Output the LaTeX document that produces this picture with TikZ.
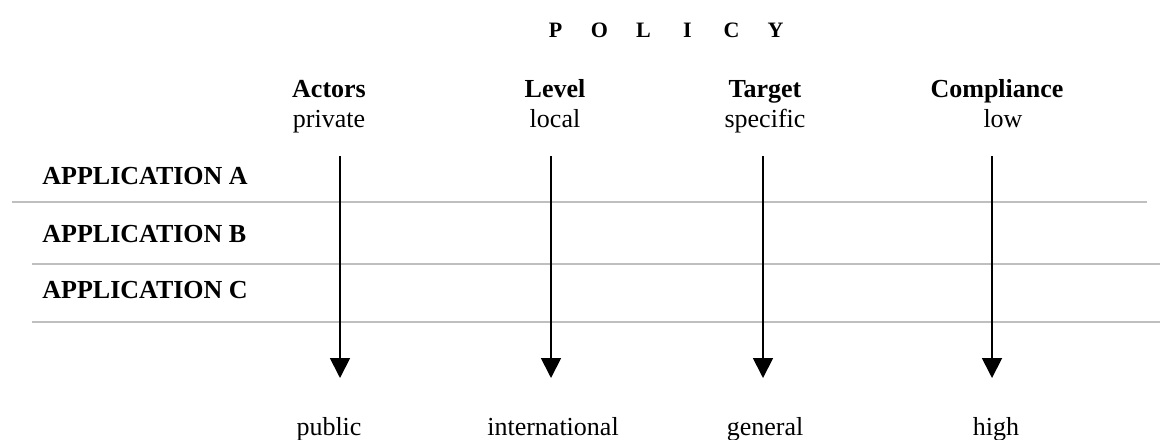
\documentclass[tikz,border=0pt]{standalone}
\usepackage{fontspec}
\setmainfont{Liberation Serif}
\usepackage{tikz}
\usetikzlibrary{positioning}
\usetikzlibrary{arrows.meta}

\begin{document}
\begin{tikzpicture}
	[x=0.5pt,y=-0.5pt,
	 title/.style={anchor=base,font=\fontsize{11}{13}\selectfont\bfseries},
	 head/.style={anchor=base,font=\fontsize{13}{15}\selectfont\bfseries},
	 val/.style={anchor=base,font=\fontsize{13}{15}\selectfont},
	 app/.style={anchor=base west,inner sep=0pt,font=\fontsize{13}{15}\selectfont\bfseries},
	 sep/.style={draw=black!25,line width=0.9pt},
	 flow/.style={-{Triangle[width=10pt,length=10pt]},line width=0.9pt}]
	\useasboundingbox (0,0) rectangle (1160,439);
	\node[title] (pol) at (665.5,37) {\makebox[22pt]{P}\makebox[22pt]{O}\makebox[22pt]{L}\makebox[22pt]{I}\makebox[22pt]{C}\makebox[22pt]{Y}};
	% column heads
	\node[head] (act)  at (329,97)  {Actors};
	\node[val]  (priv) at (329,127) {private};
	\node[head] (lev)  at (555,97)  {Level};
	\node[val]  (loc)  at (555,127) {local};
	\node[head] (targ) at (765,97)  {Target};
	\node[val]  (spec) at (765,127) {specific};
	\node[head] (comp) at (997,97)  {Compliance};
	\node[val]  (low)  at (1003,127) {low};
	% rows
	\node[app] (appA) at (42,184) {APPLICATION A};
	\node[app] (appB) at (42,242) {APPLICATION B};
	\node[app] (appC) at (42,298) {APPLICATION C};
	\draw[sep] (12,202) -- (1147,202);
	\draw[sep] (32,264) -- (1160,264);
	\draw[sep] (32,322) -- (1160,322);
	% column ends
	\node[val] (pub)  at (329,435) {public};
	\node[val] (intl) at (553,435) {international};
	\node[val] (gen)  at (765,435) {general};
	\node[val] (high) at (996,435) {high};
	\coordinate (actS)  at (340,156);
	\coordinate (actE)  at (340,378);
	\coordinate (levS)  at (551,156);
	\coordinate (levE)  at (551,378);
	\coordinate (targS) at (763,156);
	\coordinate (targE) at (763,378);
	\coordinate (compS) at (992,156);
	\coordinate (compE) at (992,378);
	\draw[flow] (actS) -- (actE);
	\draw[flow] (levS) -- (levE);
	\draw[flow] (targS) -- (targE);
	\draw[flow] (compS) -- (compE);
\end{tikzpicture}
\end{document}
